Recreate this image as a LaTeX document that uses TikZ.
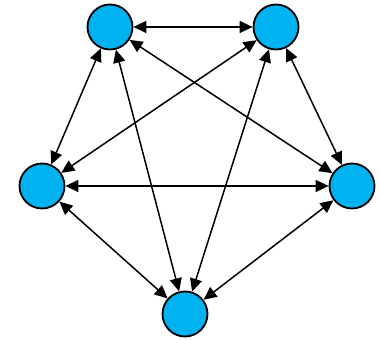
\documentclass[tikz,border=0pt]{standalone}
\usepackage{tikz}
\usetikzlibrary{arrows.meta}
\definecolor{nodeblue}{RGB}{0,178,240}

\begin{document}
\begin{tikzpicture}[x=0.5pt,y=-0.5pt]
  \useasboundingbox (0,0) rectangle (379,340);
  % Nodes
  \foreach \i/\x/\y in {0/110/27,1/276/27,2/352/186,3/185/314,4/42/186}{
    \node[draw, circle, fill=nodeblue, line width=0.9pt, minimum size=22.5pt, inner sep=0pt] (v\i) at (\x,\y) {};
  }
  % Edges
  \tikzset{every path/.append style={line width=0.75pt, {Triangle[length=6.5pt,width=6pt]}-{Triangle[length=6.5pt,width=6pt]}}}
  \draw (v0) -- (v1);
  \draw (v1) -- (v2);
  \draw (v2) -- (v3);
  \draw (v3) -- (v4);
  \draw (v4) -- (v0);
  \draw (v0) -- (v2);
  \draw (v0) -- (v3);
  \draw (v1) -- (v3);
  \draw (v1) -- (v4);
  \draw (v2) -- (v4);
\end{tikzpicture}
\end{document}
